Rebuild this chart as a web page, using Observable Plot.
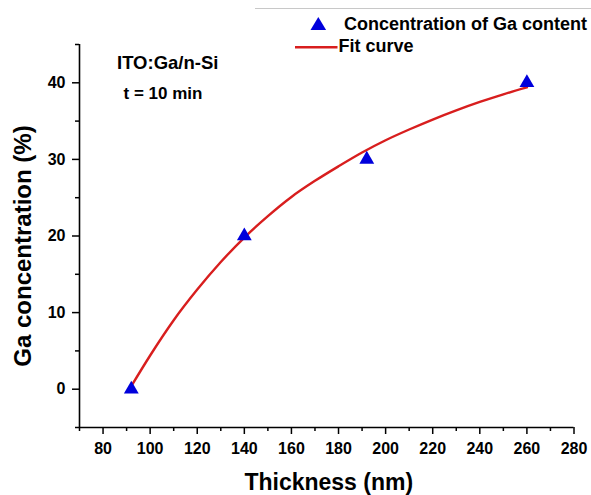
<!DOCTYPE html>
<html>
<head>
<meta charset="utf-8">
<script src="https://cdn.jsdelivr.net/npm/d3@7"></script>
<script src="https://cdn.jsdelivr.net/npm/@observablehq/plot@0.6"></script>
<style>
  html, body { margin: 0; padding: 0; background: #fff; }
  #wrap { position: relative; width: 591px; height: 495px; overflow: hidden; }
  #legend { position: absolute; left: 0; top: 0; pointer-events: none; }
  svg text { font-family: "Liberation Sans", Arial, sans-serif !important; font-weight: 700 !important; }
</style>
</head>
<body>
<div id="wrap"></div>
<script>
// Measured points (Concentration of Ga content)
const thickness = [92, 140, 192, 260];
const gaConcentration = [0, 20, 30, 40];

// Fit curve
const fitThickness = [92, 100, 110, 120, 130, 140, 150, 160, 170, 180, 190, 200, 210, 220, 230, 240, 250, 260];
const fitConcentration = [0.4, 4.4, 9.0, 13.0, 16.6, 19.8, 22.6, 25.1, 27.2, 29.1, 30.9, 32.5, 33.9, 35.2, 36.4, 37.5, 38.5, 39.4];

// Ticks
const xMajorTicks = [80, 100, 120, 140, 160, 180, 200, 220, 240, 260, 280];
const xMinorTicks = [70, 90, 110, 130, 150, 170, 190, 210, 230, 250, 270];
const yMajorTicks = [0, 10, 20, 30, 40];
const yMinorTicks = [-5, 5, 15, 25, 35, 45];

// Texts
const xLabel = "Thickness (nm)";
const yLabel = "Ga concentration (%)";
const sampleName = "ITO:Ga/n-Si";
const timeNote = "t = 10 min";
const legendPoints = "Concentration of Ga content";
const legendFit = "Fit curve";

const points = thickness.map((x, i) => ({x, y: gaConcentration[i]}));
const fit = fitThickness.map((x, i) => ({x, y: fitConcentration[i]}));

const blue = "#0000dc";
const red = "#d81e1e";
const font = "'Liberation Sans', Arial, sans-serif";

const chart = Plot.plot({
  width: 591,
  height: 495,
  marginLeft: 79,
  marginRight: 17.5,
  marginTop: 44,
  marginBottom: 68,
  x: {domain: [70, 280]},
  y: {domain: [-5, 45]},
  style: {fontFamily: font, fontWeight: "bold", background: "white", color: "black", overflow: "visible"},
  marks: [
    Plot.axisX({ticks: xMinorTicks, tickSize: 4, tickFormat: () => "", label: null, strokeWidth: 1.5}),
    Plot.axisX({ticks: xMajorTicks, tickSize: 7, tickPadding: 8, fontSize: 16, fontWeight: "bold", fill: "black", label: null, strokeWidth: 1.5, tickFormat: d => String(d)}),
    Plot.axisY({ticks: yMinorTicks, tickSize: 4, tickFormat: () => "", label: null, strokeWidth: 1.5}),
    Plot.axisY({ticks: yMajorTicks, tickSize: 7, tickPadding: 7, fontSize: 16, fontWeight: "bold", fill: "black", label: null, strokeWidth: 1.5, tickFormat: d => String(d)}),
    Plot.ruleX([70], {stroke: "black", strokeWidth: 1.6}),
    Plot.ruleY([-5], {stroke: "black", strokeWidth: 1.6}),
    Plot.line(fit, {x: "x", y: "y", stroke: red, strokeWidth: 2.4, curve: "monotone-x"}),
    Plot.dot(points, {x: "x", y: "y", symbol: "triangle", fill: blue, stroke: "none", r: 5.5}),
    Plot.text([sampleName], {frameAnchor: "top-left", dx: 37.5, dy: 24.5, textAnchor: "start", lineAnchor: "bottom", fontSize: 18.5, fontWeight: "bold", fill: "black"}),
    Plot.text([timeNote], {frameAnchor: "top-left", dx: 44, dy: 54.5, textAnchor: "start", lineAnchor: "bottom", fontSize: 17, fontWeight: "bold", fill: "black"}),
    Plot.text([xLabel], {frameAnchor: "bottom", dx: 2, dy: 46, lineAnchor: "top", fontSize: 23, fontWeight: "bold", fill: "black"}),
    Plot.text([yLabel], {frameAnchor: "left", dx: -56, dy: 10, rotate: -90, textAnchor: "middle", lineAnchor: "middle", fontSize: 24, fontWeight: "bold", fill: "black"})
  ]
});

const wrap = document.getElementById("wrap");
wrap.appendChild(chart);

// Legend overlay (top right)
const ns = "http://www.w3.org/2000/svg";
const leg = document.createElementNS(ns, "svg");
leg.setAttribute("id", "legend");
leg.setAttribute("width", 591);
leg.setAttribute("height", 495);
leg.innerHTML = `
  <line x1="255" y1="8.5" x2="591" y2="8.5" stroke="#c8c8c8" stroke-width="1"/>
  <polygon points="318.3,17 310.5,30 326.1,30" fill="${blue}"/>
  <text x="344" y="30" font-size="18" font-weight="bold" fill="black">${legendPoints}</text>
  <line x1="295" y1="47.3" x2="337.5" y2="47.3" stroke="${red}" stroke-width="2.4"/>
  <text x="338.5" y="52" font-size="18" font-weight="bold" fill="black">${legendFit}</text>
`;
wrap.appendChild(leg);
</script>
</body>
</html>
